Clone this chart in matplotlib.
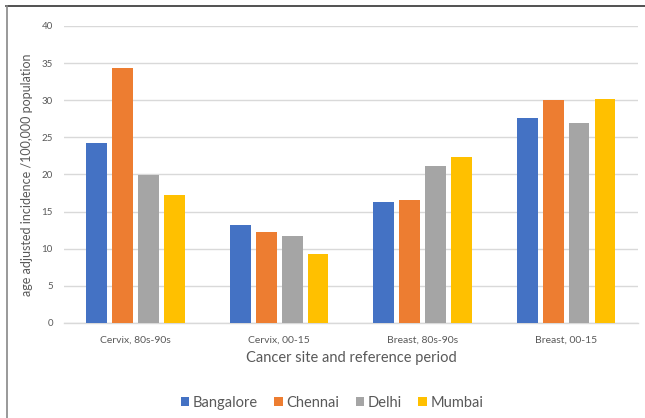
import matplotlib
matplotlib.use("Agg")
import matplotlib.pyplot as plt
import numpy as np
from matplotlib.lines import Line2D

categories = ["Cervix, 80s-90s", "Cervix, 00-15", "Breast, 80s-90s", "Breast, 00-15"]
series_names = ["Bangalore", "Chennai", "Delhi", "Mumbai"]
bangalore = [24.3, 13.2, 16.3, 27.6]
chennai = [34.3, 12.2, 16.5, 30.0]
delhi = [19.9, 11.7, 21.1, 27.0]
mumbai = [17.3, 9.3, 22.3, 30.2]
colors = ["#4472C4", "#ED7D31", "#A5A5A5", "#FFC000"]
yticks = [0, 5, 10, 15, 20, 25, 30, 35, 40]

plt.rcParams['font.family'] = ['Lato', 'DejaVu Sans']

fig = plt.figure(figsize=(6.45, 4.18), dpi=100)
ax = fig.add_axes([0.0992, 0.2273, 0.8898, 0.7105])

x = np.arange(len(categories))
width = 0.144
step = 0.181
for i, (name, vals, c) in enumerate(zip(series_names, [bangalore, chennai, delhi, mumbai], colors)):
    ax.bar(x + (i - 1.5) * step, vals, width, color=c, label=name, zorder=3)

ax.set_xlim(-0.5, len(categories) - 0.5)
ax.set_ylim(0, 40)
ax.set_yticks(yticks)
ax.set_yticklabels([str(t) for t in yticks])
ax.set_xticks(x)
ax.set_xticklabels(categories)
ax.yaxis.grid(True, color="#D9D9D9", linewidth=1.0, zorder=0)
for s in ["top", "right", "left"]:
    ax.spines[s].set_visible(False)
ax.spines["bottom"].set_color("#D9D9D9")
ax.spines["bottom"].set_linewidth(1.0)
ax.tick_params(axis="both", length=0, colors="#595959", labelsize=7)
ax.tick_params(axis="y", pad=8)
ax.tick_params(axis="x", pad=9, labelsize=7.5)
ax.set_ylabel("age adjusted incidence /100,000 population", color="#595959", fontsize=9, labelpad=6)
ax.set_xlabel("Cancer site and reference period", color="#595959", fontsize=10.5, labelpad=5)

leg = fig.legend(loc="center", bbox_to_anchor=(0.515, 0.036), ncol=4, frameon=False,
                 fontsize=10.5, handlelength=0.6, handleheight=0.6, handletextpad=0.25,
                 columnspacing=1.1, labelcolor="#595959")

fig.add_artist(Line2D([6/645, 1.0], [1 - 6/418, 1 - 6/418], color="#333333", linewidth=1.2, transform=fig.transFigure))
fig.add_artist(Line2D([7/645, 7/645], [0, 1 - 6/418], color="#888888", linewidth=1.2, transform=fig.transFigure))

fig.savefig("out.png", dpi=100)
